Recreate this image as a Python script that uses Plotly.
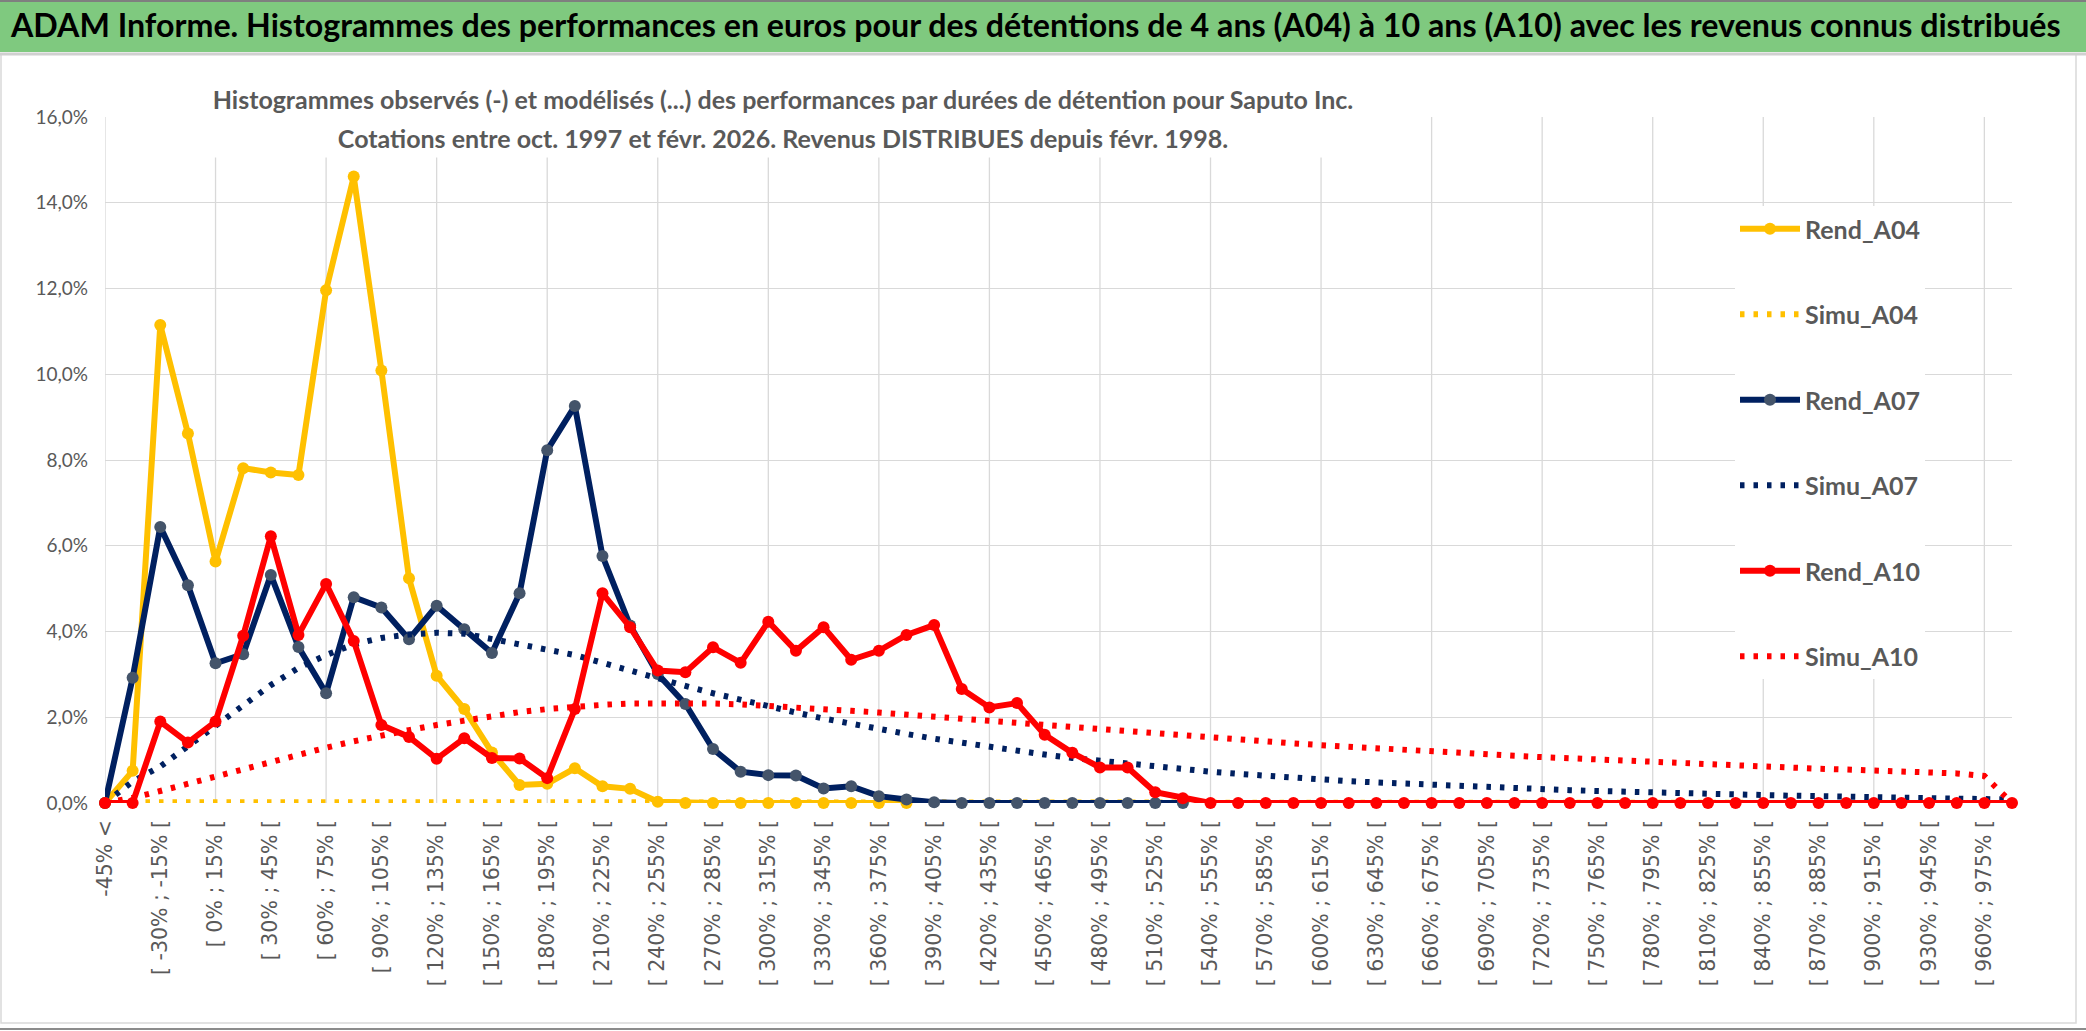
import plotly.graph_objects as go

categories = [
    "-45% <", "[ -45% ; -30% [", "[ -30% ; -15% [", "[ -15% ; 0% [", "[ 0% ; 15% [",
    "[ 15% ; 30% [", "[ 30% ; 45% [", "[ 45% ; 60% [", "[ 60% ; 75% [", "[ 75% ; 90% [",
    "[ 90% ; 105% [", "[ 105% ; 120% [", "[ 120% ; 135% [", "[ 135% ; 150% [", "[ 150% ; 165% [",
    "[ 165% ; 180% [", "[ 180% ; 195% [", "[ 195% ; 210% [", "[ 210% ; 225% [", "[ 225% ; 240% [",
    "[ 240% ; 255% [", "[ 255% ; 270% [", "[ 270% ; 285% [", "[ 285% ; 300% [", "[ 300% ; 315% [",
    "[ 315% ; 330% [", "[ 330% ; 345% [", "[ 345% ; 360% [", "[ 360% ; 375% [", "[ 375% ; 390% [",
    "[ 390% ; 405% [", "[ 405% ; 420% [", "[ 420% ; 435% [", "[ 435% ; 450% [", "[ 450% ; 465% [",
    "[ 465% ; 480% [", "[ 480% ; 495% [", "[ 495% ; 510% [", "[ 510% ; 525% [", "[ 525% ; 540% [",
    "[ 540% ; 555% [", "[ 555% ; 570% [", "[ 570% ; 585% [", "[ 585% ; 600% [", "[ 600% ; 615% [",
    "[ 615% ; 630% [", "[ 630% ; 645% [", "[ 645% ; 660% [", "[ 660% ; 675% [", "[ 675% ; 690% [",
    "[ 690% ; 705% [", "[ 705% ; 720% [", "[ 720% ; 735% [", "[ 735% ; 750% [", "[ 750% ; 765% [",
    "[ 765% ; 780% [", "[ 780% ; 795% [", "[ 795% ; 810% [", "[ 810% ; 825% [", "[ 825% ; 840% [",
    "[ 840% ; 855% [", "[ 855% ; 870% [", "[ 870% ; 885% [", "[ 885% ; 900% [", "[ 900% ; 915% [",
    "[ 915% ; 930% [", "[ 930% ; 945% [", "[ 945% ; 960% [", "[ 960% ; 975% [", "975% >",
]

# values in percent
rend_a04 = [
    0.0, 0.75, 11.15, 8.62, 5.63, 7.81, 7.71, 7.65, 11.96, 14.61,
    10.09, 5.24, 2.97, 2.19, 1.18, 0.42, 0.45, 0.81, 0.39, 0.33,
    0.03, 0.0, 0.0, 0.0, 0.0, 0.0, 0.0, 0.0, 0.0, 0.0,
] + [None] * 40

simu_a04 = [
    0.0, 0.02, 0.02, 0.02, 0.02, 0.02, 0.02, 0.02, 0.02, 0.02,
    0.02, 0.02, 0.02, 0.02, 0.02, 0.02, 0.02, 0.02, 0.02, 0.02,
    0.02, 0.02, 0.02, 0.02, 0.02, 0.02, 0.02, 0.02, 0.02, 0.02,
    0.02, 0.02, 0.02, 0.02, 0.02, 0.02, 0.02, 0.02, 0.02, 0.02,
    0.02, 0.02, 0.02, 0.02, 0.02, 0.02, 0.02, 0.02, 0.02, 0.02,
    0.02, 0.02, 0.02, 0.02, 0.02, 0.02, 0.02, 0.02, 0.02, 0.02,
    0.02, 0.02, 0.02, 0.02, 0.02, 0.02, 0.02, 0.02, 0.02, 0.0,
]

rend_a07 = [
    0.0, 2.92, 6.44, 5.08, 3.26, 3.47, 5.32, 3.64, 2.56, 4.80,
    4.56, 3.82, 4.60, 4.05, 3.50, 4.89, 8.23, 9.26, 5.76, 4.14,
    3.01, 2.31, 1.26, 0.73, 0.65, 0.64, 0.34, 0.39, 0.16, 0.08,
    0.02, 0.0, 0.0, 0.0, 0.0, 0.0, 0.0, 0.0, 0.0, 0.0,
] + [None] * 30

simu_a07 = [
    0.0, 0.50, 0.85, 1.33, 1.80, 2.30, 2.75, 3.15, 3.45, 3.70,
    3.85, 3.93, 3.97, 3.95, 3.83, 3.72, 3.60, 3.45, 3.27, 3.08,
    2.90, 2.73, 2.56, 2.40, 2.25, 2.11, 1.97, 1.84, 1.72, 1.61,
    1.50, 1.40, 1.31, 1.22, 1.13, 1.05, 0.98, 0.91, 0.84, 0.78,
    0.73, 0.68, 0.63, 0.59, 0.55, 0.51, 0.48, 0.45, 0.42, 0.39,
    0.36, 0.34, 0.32, 0.30, 0.28, 0.26, 0.24, 0.23, 0.21, 0.20,
    0.19, 0.17, 0.16, 0.15, 0.14, 0.13, 0.12, 0.12, 0.11, 0.08,
]

rend_a10 = [
    0.0, 0.0, 1.90, 1.41, 1.90, 3.90, 6.22, 3.92, 5.11, 3.78,
    1.82, 1.54, 1.03, 1.51, 1.05, 1.04, 0.58, 2.19, 4.89, 4.10,
    3.09, 3.05, 3.63, 3.27, 4.23, 3.55, 4.10, 3.34, 3.55, 3.92,
    4.15, 2.66, 2.23, 2.33, 1.59, 1.17, 0.83, 0.83, 0.25, 0.11,
    0.0, 0.0, 0.0, 0.0, 0.0, 0.0, 0.0, 0.0, 0.0, 0.0,
    0.0, 0.0, 0.0, 0.0, 0.0, 0.0, 0.0, 0.0, 0.0, 0.0,
    0.0, 0.0, 0.0, 0.0, 0.0, 0.0, 0.0, 0.0, 0.0, 0.0,
]

simu_a10 = [
    0.0, 0.12, 0.28, 0.45, 0.62, 0.80, 0.97, 1.13, 1.29, 1.44,
    1.58, 1.70, 1.82, 1.93, 2.03, 2.12, 2.19, 2.25, 2.29, 2.32,
    2.33, 2.33, 2.32, 2.30, 2.27, 2.23, 2.19, 2.15, 2.11, 2.06,
    2.01, 1.96, 1.91, 1.86, 1.81, 1.76, 1.71, 1.66, 1.61, 1.56,
    1.52, 1.47, 1.43, 1.39, 1.35, 1.31, 1.27, 1.23, 1.20, 1.16,
    1.13, 1.10, 1.07, 1.04, 1.01, 0.98, 0.95, 0.92, 0.90, 0.87,
    0.85, 0.82, 0.80, 0.78, 0.76, 0.73, 0.71, 0.69, 0.63, 0.0,
]

series_names = ["Rend_A04", "Simu_A04", "Rend_A07", "Simu_A07", "Rend_A10", "Simu_A10"]

header_title = ("ADAM Informe. Histogrammes des performances en euros pour des détentions "
                "de 4 ans (A04) à 10 ans (A10) avec les revenus connus distribués")
subtitle_1 = ("Histogrammes observés (-) et modélisés (...) des performances par durées "
              "de détention pour Saputo Inc.")
subtitle_2 = "Cotations entre oct. 1997 et févr. 2026. Revenus DISTRIBUES depuis févr. 1998."

YELLOW = "#FFC000"
NAVY = "#002060"
NAVY_MK = "#44546A"
RED = "#FF0000"
GRID = "#D9D9D9"
TXT = "#595959"

W, H = 2086, 1031
ML, MR, MT, MB = 105, 74, 117, 228
PW, PH = W - ML - MR, H - MT - MB


def px2x(px):
    return (px - ML) / PW


def py2y(py):
    return (H - MB - py) / PH


fig = go.Figure()

styles = [
    (rend_a04, YELLOW, YELLOW, True),
    (simu_a04, YELLOW, None, False),
    (rend_a07, NAVY, NAVY_MK, True),
    (simu_a07, NAVY, None, False),
    (rend_a10, RED, RED, True),
    (simu_a10, RED, None, False),
]

for name, (vals, col, mk, solid) in zip(series_names, styles):
    if solid:
        fig.add_trace(go.Scatter(
            x=categories, y=vals, name=name, legendgroup=name,
            mode="lines+markers",
            line=dict(color=col, width=6),
            marker=dict(color=mk, size=12, line=dict(width=0)),
            cliponaxis=False, connectgaps=False,
        ))
    else:
        fig.add_trace(go.Scatter(
            x=categories, y=vals, name=name, legendgroup=name,
            mode="lines",
            line=dict(color=col, width=6, dash="4.5px,9px"),
            cliponaxis=False,
        ))

# vertical gridlines every 4 categories
shapes = []
for i in range(0, len(categories), 4):
    shapes.append(dict(type="line", xref="x", yref="y", x0=categories[i], x1=categories[i],
                       y0=0, y1=16, line=dict(color=GRID, width=1.3), layer="below"))

# chart frame
shapes.append(dict(type="rect", xref="paper", yref="paper",
                   x0=px2x(1), x1=px2x(2076), y0=py2y(1023), y1=py2y(54),
                   line=dict(color=GRID, width=1.5), layer="below"))
shapes.append(dict(type="line", xref="paper", yref="paper",
                   x0=px2x(0), x1=px2x(W), y0=py2y(1029), y1=py2y(1029),
                   line=dict(color="#8C8C8C", width=2), layer="below"))
# green header band
shapes.append(dict(type="rect", xref="paper", yref="paper",
                   x0=px2x(0), x1=px2x(W), y0=py2y(52), y1=py2y(0),
                   fillcolor="#7FC97F", line=dict(width=0), layer="below"))
shapes.append(dict(type="line", xref="paper", yref="paper",
                   x0=px2x(0), x1=px2x(W), y0=py2y(1), y1=py2y(1),
                   line=dict(color="#7F7F7F", width=2), layer="below"))
shapes.append(dict(type="line", xref="paper", yref="paper",
                   x0=px2x(0), x1=px2x(W), y0=py2y(54), y1=py2y(54),
                   line=dict(color="#D0D0D0", width=3), layer="below"))

annotations = [
    dict(text=subtitle_1, x=px2x(783), y=py2y(99), xref="paper", yref="paper",
         xanchor="center", yanchor="middle", showarrow=False, width=1180, height=44,
         bgcolor="white", borderpad=0,
         font=dict(family="Lato", size=25, color=TXT, weight="bold")),
    dict(text=subtitle_2, x=px2x(783), y=py2y(138), xref="paper", yref="paper",
         xanchor="center", yanchor="middle", showarrow=False, width=1180, height=38,
         bgcolor="white", borderpad=0,
         font=dict(family="Lato", size=25, color=TXT, weight="bold")),
]

fig.update_layout(
    width=W, height=H, autosize=False,
    margin=dict(l=ML, r=MR, t=MT, b=MB, pad=0),
    paper_bgcolor="white", plot_bgcolor="white",
    separators=", ",
    title=dict(text=header_title, xref="container", yref="container",
               x=11 / W, y=1 - 26 / H, xanchor="left", yanchor="middle",
               font=dict(family="Lato", size=32.2, color="black", weight="bold")),
    xaxis=dict(type="category", categoryorder="array", categoryarray=categories,
               range=[0, len(categories) - 1], showgrid=False, zeroline=False, showline=False,
               tickmode="array", tickvals=categories[0::2], ticktext=categories[0::2],
               tickangle=-90, ticks="", ticklabelstandoff=12,
               tickfont=dict(family="DejaVu Sans", size=20.5, color=TXT)),
    yaxis=dict(range=[0, 16], dtick=2, tick0=0, tickformat=".1f", ticksuffix="%",
               showgrid=True, gridcolor=GRID, gridwidth=1.3, zeroline=False, showline=False,
               ticks="", ticklabelstandoff=16,
               tickfont=dict(family="Lato", size=19, color=TXT)),
    legend=dict(x=px2x(1735), y=py2y(206), xanchor="left", yanchor="top",
                bgcolor="white", itemwidth=60, tracegroupgap=50,
                font=dict(family="Lato", size=25, color=TXT, weight="bold")),
    shapes=shapes,
    annotations=annotations,
    showlegend=True,
)

fig.write_html("out.html", config={"displayModeBar": False},
               post_script="document.body.style.margin='0px';")
